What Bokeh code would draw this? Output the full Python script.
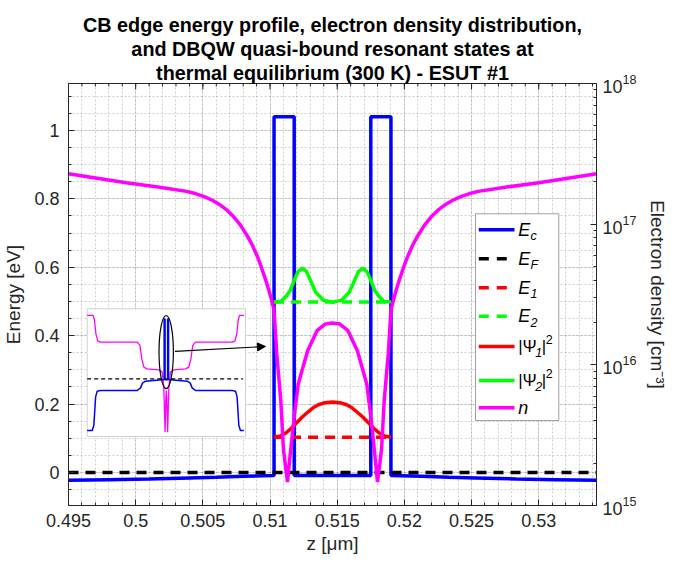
from bokeh.plotting import figure
from bokeh.models import (Range1d, LogScale, LogAxis, FixedTicker, Title, Arrow, NormalHead)
from bokeh.core.properties import value
from bokeh.embed import file_html
from bokeh.resources import INLINE

# ---------------- data ----------------
title_lines = ["CB edge energy profile, electron density distribution,",
               "and DBQW quasi-bound resonant states at",
               "thermal equilibrium (300 K) - ESUT #1"]

x_ticks = [0.495, 0.5, 0.505, 0.51, 0.515, 0.52, 0.525, 0.53]
x_tick_labels = ["0.495", "0.5", "0.505", "0.51", "0.515", "0.52", "0.525", "0.53"]
y_ticks = [0, 0.2, 0.4, 0.6, 0.8, 1.0]
y_tick_labels = ["0", "0.2", "0.4", "0.6", "0.8", "1"]
n_ticks = [1e15, 1e16, 1e17, 1e18]

# conduction band edge Ec [eV] vs z [um]
ec_z = [0.4950, 0.4980, 0.5010, 0.5040, 0.5060, 0.5080, 0.5095, 0.5103, 0.5103, 0.5118,
        0.5118, 0.5175, 0.5175, 0.5190, 0.5190, 0.5198, 0.5213, 0.5233, 0.5253, 0.5283,
        0.5313, 0.5343]
ec_e = [-0.023, -0.021, -0.019, -0.016, -0.014, -0.011, -0.0095, -0.009, 1.04, 1.04,
        -0.009, -0.009, 1.04, 1.04, -0.009, -0.0095, -0.011, -0.014, -0.016, -0.019,
        -0.021, -0.023]

# Fermi level
ef_z = [0.4950, 0.5343]
ef_e = [0.0, 0.0]

# quasi-bound resonant levels
lev_z = [0.5103, 0.5190]
e1_e = [0.103, 0.103]
e2_e = [0.498, 0.498]

# |Psi1|^2 (offset at E1) [eV]
psi1_z = [0.5103, 0.5108, 0.5112, 0.5116, 0.5120, 0.5124, 0.5128, 0.5132, 0.5136, 0.5141,
          0.51465, 0.5152, 0.5157, 0.5161, 0.5165, 0.5169, 0.5173, 0.5177, 0.5181, 0.5185,
          0.5190]
psi1_e = [0.103, 0.107, 0.116, 0.130, 0.146, 0.162, 0.176, 0.189, 0.198, 0.204,
          0.206, 0.204, 0.198, 0.189, 0.176, 0.162, 0.146, 0.130, 0.116, 0.107,
          0.103]

# |Psi2|^2 (offset at E2) [eV]
psi2_z = [0.5103, 0.5108, 0.5112, 0.5115, 0.5119, 0.5121, 0.5124, 0.5127, 0.5129, 0.5134,
          0.5140, 0.51465, 0.5153, 0.5159, 0.5164, 0.5166, 0.5169, 0.5172, 0.5174, 0.5178,
          0.5181, 0.5185, 0.5190]
psi2_e = [0.498, 0.500, 0.515, 0.532, 0.571, 0.588, 0.597, 0.588, 0.571, 0.527,
          0.503, 0.498, 0.503, 0.527, 0.571, 0.588, 0.597, 0.588, 0.571, 0.532,
          0.515, 0.500, 0.498]

# electron density n [cm^-3]
n_z = [0.4950, 0.4969, 0.4993, 0.5018, 0.5038, 0.5045, 0.5051, 0.5057, 0.5063, 0.5068,
       0.5073, 0.5078, 0.5083, 0.5087, 0.5090, 0.5093, 0.5097, 0.5099, 0.5101, 0.5103,
       0.5105, 0.5108, 0.5110, 0.5113, 0.5115, 0.5118, 0.5121, 0.5128, 0.5135, 0.5141,
       0.51465,
       0.5152, 0.5158, 0.5165, 0.5172, 0.5175, 0.5178, 0.5180, 0.5183, 0.5185, 0.5188,
       0.5190, 0.5192, 0.5194, 0.5196, 0.5200, 0.5203, 0.5206, 0.5210, 0.5215, 0.5220,
       0.5225, 0.5230, 0.5236, 0.5242, 0.5248, 0.5255, 0.5275, 0.5300, 0.5324, 0.5343]
n_val = [2.28e17, 2.14e17, 1.97e17, 1.83e17, 1.71e17, 1.644e17, 1.57e17, 1.479e17, 1.368e17, 1.256e17,
         1.127e17, 9.84e16, 8.28e16, 7.03e16, 6.07e16, 5.13e16, 3.95e16, 3.42e16, 2.92e16, 2.45e16,
         1.2e16, 5.6e15, 2.5e15, 1.47e15, 2.3e15, 4.3e15, 7.3e15, 1.26e16, 1.75e16, 1.95e16,
         1.98e16,
         1.95e16, 1.75e16, 1.26e16, 7.3e15, 4.3e15, 2.3e15, 1.47e15, 2.5e15, 5.6e15, 1.2e16,
         2.45e16, 2.92e16, 3.42e16, 3.95e16, 5.13e16, 6.07e16, 7.03e16, 8.28e16, 9.84e16, 1.127e17,
         1.256e17, 1.368e17, 1.479e17, 1.57e17, 1.644e17, 1.71e17, 1.83e17, 1.97e17, 2.14e17, 2.28e17]

# inset (whole device, normalised coordinates)
inset_n_x = [0.0, 0.038, 0.046, 0.055, 0.067, 0.084, 0.316, 0.333, 0.345, 0.358, 0.379, 0.453,
             0.474, 0.484, 0.492, 0.497, 0.500, 0.503, 0.508, 0.516, 0.526, 0.547, 0.621,
             0.642, 0.655, 0.667, 0.684, 0.916, 0.933, 0.945, 0.954, 0.962, 0.99]
inset_n_y = [0.948, 0.948, 0.909, 0.804, 0.747, 0.739, 0.739, 0.713, 0.608, 0.543, 0.530, 0.522,
             0.504, 0.386, 0.034, 0.300, 0.360, 0.300, 0.034, 0.386, 0.504, 0.522, 0.530,
             0.543, 0.608, 0.713, 0.739, 0.739, 0.747, 0.804, 0.909, 0.948, 0.948]
inset_ec_x = [0.0, 0.032, 0.042, 0.053, 0.063, 0.084, 0.316, 0.337, 0.349, 0.368, 0.474, 0.486,
              0.486, 0.492, 0.492, 0.508, 0.508, 0.514, 0.514, 0.526, 0.632, 0.651, 0.663,
              0.684, 0.916, 0.937, 0.947, 0.958, 0.968, 0.99]
inset_ec_y = [0.047, 0.047, 0.086, 0.308, 0.355, 0.360, 0.360, 0.381, 0.418, 0.433, 0.444, 0.444,
              0.92, 0.92, 0.444, 0.444, 0.92, 0.92, 0.444, 0.444, 0.433, 0.418, 0.381,
              0.360, 0.360, 0.355, 0.308, 0.086, 0.047, 0.047]
inset_ef_x = [0.0, 0.985]
inset_ef_y = [0.452, 0.452]

# ---------------- layout ----------------
FONT = "Liberation Sans"
TXT = "#262626"
W, H = 673, 563
ML, MR, MT, MB = 68, 77, 83, 58
FW, FH = W - ML - MR, H - MT - MB

# inset box position inside the frame (pixels from frame top-left)
IN_L, IN_T, IN_W, IN_H = 18.7, 225.3, 158.3, 127.7
in_b = FH - (IN_T + IN_H)

p = figure(width=W, height=H, output_backend="svg", toolbar_location=None,
           x_range=Range1d(0.495, 0.5343), y_range=Range1d(-0.0965, 1.137),
           min_border_left=ML, min_border_right=MR, min_border_top=MT, min_border_bottom=MB,
           background_fill_color="white", border_fill_color="white",
           outline_line_color=TXT, outline_line_width=1)

p.extra_x_ranges = {"px": Range1d(0, FW),
                    "ix": Range1d(-IN_L / IN_W, (FW - IN_L) / IN_W)}
p.extra_y_ranges = {"py": Range1d(FH, 0),
                    "n": Range1d(1e15, 1e18),
                    "iy": Range1d(-in_b / IN_H, (FH - in_b) / IN_H)}
p.extra_y_scales = {"n": LogScale()}

x_minor = [round(0.495 + 0.001 * i, 3) for i in range(40)]
y_minor = [round(-0.05 + 0.05 * i, 2) for i in range(24)]
n_minor = [k * 10.0 ** e for e in (15, 16, 17) for k in range(2, 10)]

TICK_FS = "18px"
LABEL_FS = "19px"


def style_axis(ax):
    ax.axis_line_color = TXT
    ax.major_tick_line_color = TXT
    ax.minor_tick_line_color = TXT
    ax.major_tick_in = 6
    ax.major_tick_out = 0
    ax.minor_tick_in = 3
    ax.minor_tick_out = 0
    ax.major_label_text_font = FONT
    ax.major_label_text_color = TXT
    ax.major_label_text_font_size = TICK_FS
    ax.axis_label_text_font = FONT
    ax.axis_label_text_color = TXT
    ax.axis_label_text_font_size = LABEL_FS
    ax.axis_label_text_font_style = "normal"


xt = FixedTicker(ticks=x_ticks, minor_ticks=x_minor)
yt = FixedTicker(ticks=y_ticks, minor_ticks=y_minor)

xa = p.xaxis[0]
xa.ticker = xt
xa.major_label_overrides = dict(zip(x_ticks, x_tick_labels))
xa.axis_label = "z [μm]"
style_axis(xa)
xa.major_label_standoff = 8
xa.axis_label_standoff = 3

ya = p.yaxis[0]
ya.ticker = yt
ya.major_label_overrides = dict(zip(y_ticks, y_tick_labels))
ya.axis_label = "Energy [eV]"
style_axis(ya)
ya.major_label_standoff = 9
ya.axis_label_standoff = 7

ra = LogAxis(y_range_name="n", ticker=FixedTicker(ticks=n_ticks, minor_ticks=n_minor),
             axis_label="Electron density [cm⁻³]")
style_axis(ra)
ra.major_label_standoff = 6
ra.axis_label_standoff = 7
p.add_layout(ra, "right")

# top-edge ticks (box style), drawn from the tick arrays
p.segment(x0=x_ticks, x1=x_ticks, y0=[0] * len(x_ticks), y1=[6] * len(x_ticks),
          line_color=TXT, line_width=1, y_range_name="py")
p.segment(x0=x_minor, x1=x_minor, y0=[0] * len(x_minor), y1=[3] * len(x_minor),
          line_color=TXT, line_width=1, y_range_name="py")

for line in reversed(title_lines):
    p.add_layout(Title(text=line, align="center", text_font=FONT, text_font_size="19.8px",
                       text_font_style="bold", text_color="black", standoff=0), "above")

p.xgrid.ticker = xt
p.ygrid.ticker = yt
for g in (p.xgrid, p.ygrid):
    g.grid_line_color = TXT
    g.grid_line_alpha = 0.12
    g.minor_grid_line_color = TXT
    g.minor_grid_line_alpha = 0.22
    g.minor_grid_line_dash = "2 2"

LW = 3.5
DASH = "10 7"
p.line(ec_z, ec_e, line_color="#0000ff", line_width=LW)
p.line(ef_z, ef_e, line_color="black", line_width=LW, line_dash=DASH)
p.line(lev_z, e1_e, line_color="#ff0000", line_width=LW, line_dash=DASH)
p.line(lev_z, e2_e, line_color="#00ff00", line_width=LW, line_dash=DASH)
p.line(psi1_z, psi1_e, line_color="#ff0000", line_width=LW)
p.line(psi2_z, psi2_e, line_color="#00ff00", line_width=LW)
p.line(n_z, n_val, line_color="#ff00ff", line_width=LW, y_range_name="n")

# ---------------- inset ----------------
IR = dict(x_range_name="ix", y_range_name="iy")
p.quad(left=[0], right=[1], bottom=[0], top=[1], fill_color="white",
       line_color="#d0d0d0", line_width=1, **IR)
p.line(inset_n_x, inset_n_y, line_color="#ff00ff", line_width=1.3, **IR)
p.line(inset_ec_x, inset_ec_y, line_color="#0000ff", line_width=1.5, **IR)
p.line(inset_ef_x, inset_ef_y, line_color="black", line_width=1.2, line_dash="4 3", **IR)
p.ellipse(x=[0.499], y=[0.661], width=[0.0905], height=[0.574], fill_color=None,
          line_color="black", line_width=1.2, **IR)
p.add_layout(Arrow(end=NormalHead(size=8, fill_color="black", line_color="black"),
                   x_start=0.554, y_start=0.666, x_end=1.126, y_end=0.705,
                   line_color="black", line_width=1.2, **IR))

# ---------------- legend (manual, with sub/superscripts) ----------------
PR = dict(x_range_name="px", y_range_name="py")
LG_L, LG_R, LG_T, LG_B = 407, 490.3, 130.3, 337
p.quad(left=[LG_L], right=[LG_R], top=[LG_T], bottom=[LG_B], fill_color="white",
       line_color="#a0a0a0", line_width=1, **PR)
rows = [146.3, 175.3, 204.3, 232.7, 263.0, 297.0, 324.3]
colors = ["#0000ff", "black", "#ff0000", "#00ff00", "#ff0000", "#00ff00", "#ff00ff"]
dashed = [False, True, True, True, False, False, False]
SX0, SX1, TX = 410.3, 446, 449.7
for yy, c, d in zip(rows, colors, dashed):
    p.line([SX0, SX1], [yy, yy], line_color=c, line_width=LW,
           line_dash=("10 8" if d else "solid"), **PR)

ital = dict(text_font=value(FONT), text_font_style="italic", text_color="black",
            text_baseline="middle", text_align="left", **PR)
norm = dict(text_font=value(FONT), text_font_style="normal", text_color="black",
            text_baseline="middle", text_align="left", **PR)
# "E" with subscripts
p.text(x=[TX] * 4, y=rows[:4], text=["E"] * 4, text_font_size="18px", **ital)
p.text(x=[TX + 12.3] * 4, y=[r + 6 for r in rows[:4]], text=["c", "F", "1", "2"],
       text_font_size="12.5px", **ital)
# |Psi_k|^2
p.text(x=[TX] * 2, y=rows[4:6], text=["|Ψ", "|Ψ"], text_font_size="17px", **norm)
p.text(x=[TX + 17] * 2, y=[r + 6 for r in rows[4:6]], text=["1", "2"],
       text_font_size="12.5px", **ital)
p.text(x=[TX + 23.5] * 2, y=rows[4:6], text=["|", "|"], text_font_size="17px", **norm)
p.text(x=[TX + 27.5] * 2, y=[r - 7 for r in rows[4:6]], text=["2", "2"],
       text_font_size="12.5px", **norm)
# n
p.text(x=[TX], y=[rows[6]], text=["n"], text_font_size="18px", **ital)

open("out.html", "w").write(file_html(p, INLINE))
